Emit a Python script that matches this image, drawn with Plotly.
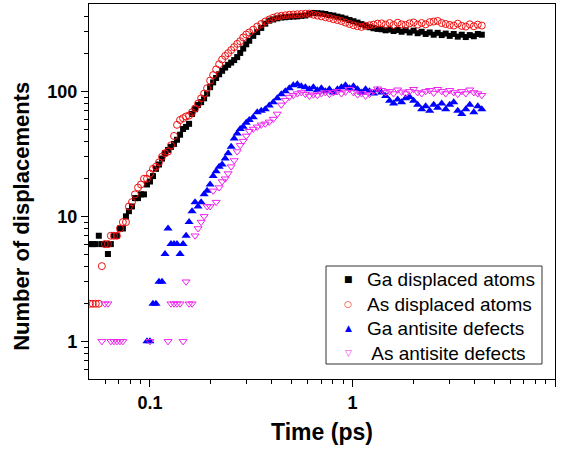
import plotly.graph_objects as go

# time (ps)
time_ps = [0.0505, 0.0522, 0.0540, 0.0559, 0.0579, 0.0599, 0.0620, 0.0641, 0.0664, 0.0687,
           0.0711, 0.0735, 0.0761, 0.0787, 0.0815, 0.0843, 0.0873, 0.0903, 0.0934, 0.0967,
           0.100, 0.1035, 0.1071, 0.1108, 0.1147, 0.1187, 0.1228, 0.1270, 0.1315, 0.1360,
           0.1408, 0.1457, 0.1508, 0.1560, 0.1614, 0.1670, 0.1728, 0.1789, 0.1851, 0.1915,
           0.1982, 0.2051, 0.2122, 0.2196, 0.2272, 0.2351, 0.2433, 0.2518, 0.2605, 0.2696,
           0.2790, 0.2887, 0.2987, 0.3091,
           0.3236, 0.3386, 0.3544, 0.3709, 0.3881, 0.4062, 0.4251, 0.4449, 0.4659, 0.4876,
           0.5103, 0.5340, 0.5589, 0.5852, 0.6124, 0.6409, 0.6707, 0.7020, 0.7349, 0.7692,
           0.8050, 0.8427, 0.8820, 0.9233, 0.9664, 1.011, 1.059, 1.108, 1.160, 1.214,
           1.270, 1.330, 1.392, 1.457, 1.525, 1.596, 1.671, 1.748, 1.830, 1.915,
           2.004, 2.098, 2.196, 2.298, 2.406, 2.518, 2.635, 2.758, 2.886, 3.021,
           3.162, 3.310, 3.464, 3.626, 3.795, 3.972, 4.157, 4.351]

ga_displaced = [6, 6, 6, 7, 6, 6, 5, 6, 7, 7,
                8, 8, 10, 11, 12, 14, 14, 15, 15, 18,
                19, 21, 24, 26, 29, 32, 34, 36, 38, 41,
                45, 50, 52, 55, 66, 72, 78, 82, 88, 96,
                108, 118, 128, 137, 146, 155, 163, 170, 178, 188,
                203, 220, 238, 254,
                278, 298, 322, 348, 368, 376, 384, 390, 392, 395,
                397, 398, 402, 405, 415, 424, 422, 420, 416, 408,
                404, 396, 390, 382, 372, 364, 355, 345, 336, 326,
                320, 316, 314, 308, 312, 304, 310, 300, 308, 296,
                306, 292, 300, 288, 296, 284, 294, 282, 290, 278,
                288, 274, 284, 272, 282, 276, 288, 284]

as_displaced = [2, 2, 2, 2, 4, 6, 6, 7, 7, 7,
                8, 9, 9, 12, 13, 15, 17, 18, 20, 20,
                22, 24, 25, 27, 30, 32, 33, 37, 44, 54,
                59, 61, 63, 64, 68, 73, 80, 88, 96, 106,
                122, 135, 150, 165, 180, 192, 202, 214, 226, 240,
                252, 270, 285, 296,
                312, 330, 346, 362, 376, 388, 398, 402, 406, 410,
                412, 414, 416, 418, 419, 410, 404, 398, 392, 386,
                378, 372, 365, 355, 346, 338, 332, 328, 334, 338,
                342, 348, 350, 342, 352, 340, 354, 344, 340, 350,
                356, 342, 352, 344, 358, 362, 366, 352, 346, 340,
                336, 348, 334, 330, 344, 332, 342, 336]

ga_antisite = [None, None, None, None, None, None, None, None, None, None,
               None, None, None, None, None, None, None, None, None, 1,
               1, 2, 2, 3, 3, 5, 8, 6, 6, 6,
               5, 6, 7, 9, 11, 13, 12, 13, 15, 16,
               18, 21, 23, 25, 26, 29, 32, 36, 42, 46,
               50, 52, 56, 59,
               62, 68, 70, 72, 77, 82, 88, 95, 100, 106,
               112, 114, 110, 108, 104, 108, 102, 106, 100, 104,
               98, 104, 108, 112, 106, 110, 104, 98, 104, 100,
               96, 102, 98, 92, 84, 80, 86, 82, 88, 90,
               84, 78, 72, 76, 70, 78, 74, 80, 72, 78,
               82, 70, 66, 72, 78, 68, 76, 72]

as_antisite = [None, None, None, None, 1, 2, 2, 1, 1, 1,
               1, 1, None, None, None, None, None, None, None, None,
               1, None, None, None, None, None, 1, 2, 2, 2,
               2, 1, 3, 2, 2, 7, 8, 9, 10, 12,
               12, 16, 13, 17, 19, 20, 22, 25, 28, 33,
               37, 40, 44, 48,
               50, 52, 54, 55, 57, 60, 66, 78, 85, 90,
               93, 96, 98, 95, 92, 94, 93, 96, 98, 95,
               98, 100, 96, 99, 104, 98, 94, 96, 92, 95,
               100, 105, 102, 98, 100, 96, 103, 99, 96, 100,
               104, 98, 96, 100, 102, 97, 104, 100, 96, 102,
               98, 95, 100, 96, 103, 98, 96, 93]

series_names = ["Ga displaced atoms", "As displaced atoms", "Ga antisite defects", " As antisite defects"]
series_colors = ["#000000", "#ee1111", "#0000ff", "#ee22ee"]
legend_glyphs = ["\u25a0", "\u25cb", "\u25b2", "\u25bd"]

for s in (ga_displaced, as_displaced, ga_antisite, as_antisite):
    assert len(s) == len(time_ps), (len(s), len(time_ps))

FONT = "Liberation Sans, Arial, sans-serif"

styles = [
    dict(symbol="square", size=6, color=series_colors[0]),
    dict(symbol="circle-open", size=7, color=series_colors[1], line=dict(width=1, color=series_colors[1])),
    dict(symbol="triangle-up", size=8, color=series_colors[2]),
    dict(symbol="triangle-down-open", size=7, color=series_colors[3], line=dict(width=1, color=series_colors[3])),
]

fig = go.Figure()
for name, ys, st in zip(series_names, [ga_displaced, as_displaced, ga_antisite, as_antisite], styles):
    fig.add_trace(go.Scatter(x=time_ps, y=ys, mode="markers", name=name,
                             marker=st, showlegend=False))

x_minor = [0.06, 0.07, 0.08, 0.09, 0.2, 0.3, 0.4, 0.5, 0.6, 0.7, 0.8, 0.9,
           2, 3, 4, 5, 6, 7, 8, 9]
y_minor = [0.6, 0.7, 0.8, 0.9, 2, 3, 4, 5, 6, 7, 8, 9, 20, 30, 40, 50, 60, 70, 80, 90,
           200, 300, 400]

# legend built from text: box, label column, one small symbol per row
legend_text = "<br>".join(series_names)
leg_center_px = 316.0
leg_row_px = 19 * 1.3
annotations = [
    dict(text="Number of displacements", textangle=-90,
         xref="paper", yref="paper", x=-0.144, y=0.435,
         xanchor="center", yanchor="middle", showarrow=False,
         font=dict(family=FONT, size=22, color="black", weight="bold")),
    dict(text=legend_text, xref="paper", yref="paper", x=0.5923, y=(379 - leg_center_px) / 375,
         xanchor="left", yanchor="middle", align="left", showarrow=False,
         font=dict(family=FONT, size=19, color="black")),
]
for i, (c, g) in enumerate(zip(series_colors, legend_glyphs)):
    row_px = leg_center_px + (i - 1.5) * leg_row_px
    annotations.append(dict(text=g, xref="paper", yref="paper", x=0.5558, y=(379 - row_px) / 375,
                            xanchor="center", yanchor="middle", showarrow=False,
                            font=dict(family="DejaVu Sans", size=9, color=c)))

fig.update_layout(
    width=564, height=452,
    margin=dict(l=89, r=9, t=4, b=73),
    paper_bgcolor="white", plot_bgcolor="white",
    font=dict(family=FONT, color="black"),
    showlegend=False,
    xaxis=dict(
        type="log", range=[-1.30103, 1.0],
        showline=True, linecolor="black", linewidth=1.3, mirror=True,
        showgrid=False, zeroline=False,
        ticks="outside", ticklen=7, tickwidth=1.2, tickcolor="black",
        tickmode="array", tickvals=[0.1, 1, 10], ticktext=["0.1", "1", "10"],
        tickfont=dict(family=FONT, size=18, color="black", weight="bold"),
        minor=dict(ticks="outside", ticklen=4, tickwidth=1, tickcolor="black",
                   tickmode="array", tickvals=x_minor, showgrid=False),
        title=dict(text="Time (ps)", standoff=12,
                   font=dict(family=FONT, size=23, color="black", weight="bold")),
    ),
    yaxis=dict(
        type="log", range=[-0.30103, 2.69897],
        showline=True, linecolor="black", linewidth=1.3, mirror=True,
        showgrid=False, zeroline=False,
        ticks="outside", ticklen=7, tickwidth=1.2, tickcolor="black",
        tickmode="array", tickvals=[1, 10, 100], ticktext=["1", "10", "100"],
        tickfont=dict(family=FONT, size=18, color="black", weight="bold"),
        minor=dict(ticks="outside", ticklen=4, tickwidth=1, tickcolor="black",
                   tickmode="array", tickvals=y_minor, showgrid=False),
    ),
    shapes=[dict(type="rect", xref="paper", yref="paper",
                 x0=0.5086, x1=0.9721, y0=0.040, y1=0.3013,
                 line=dict(color="#333333", width=1), fillcolor="white", layer="above")],
    annotations=annotations,
)

fig.write_html("out.html")
